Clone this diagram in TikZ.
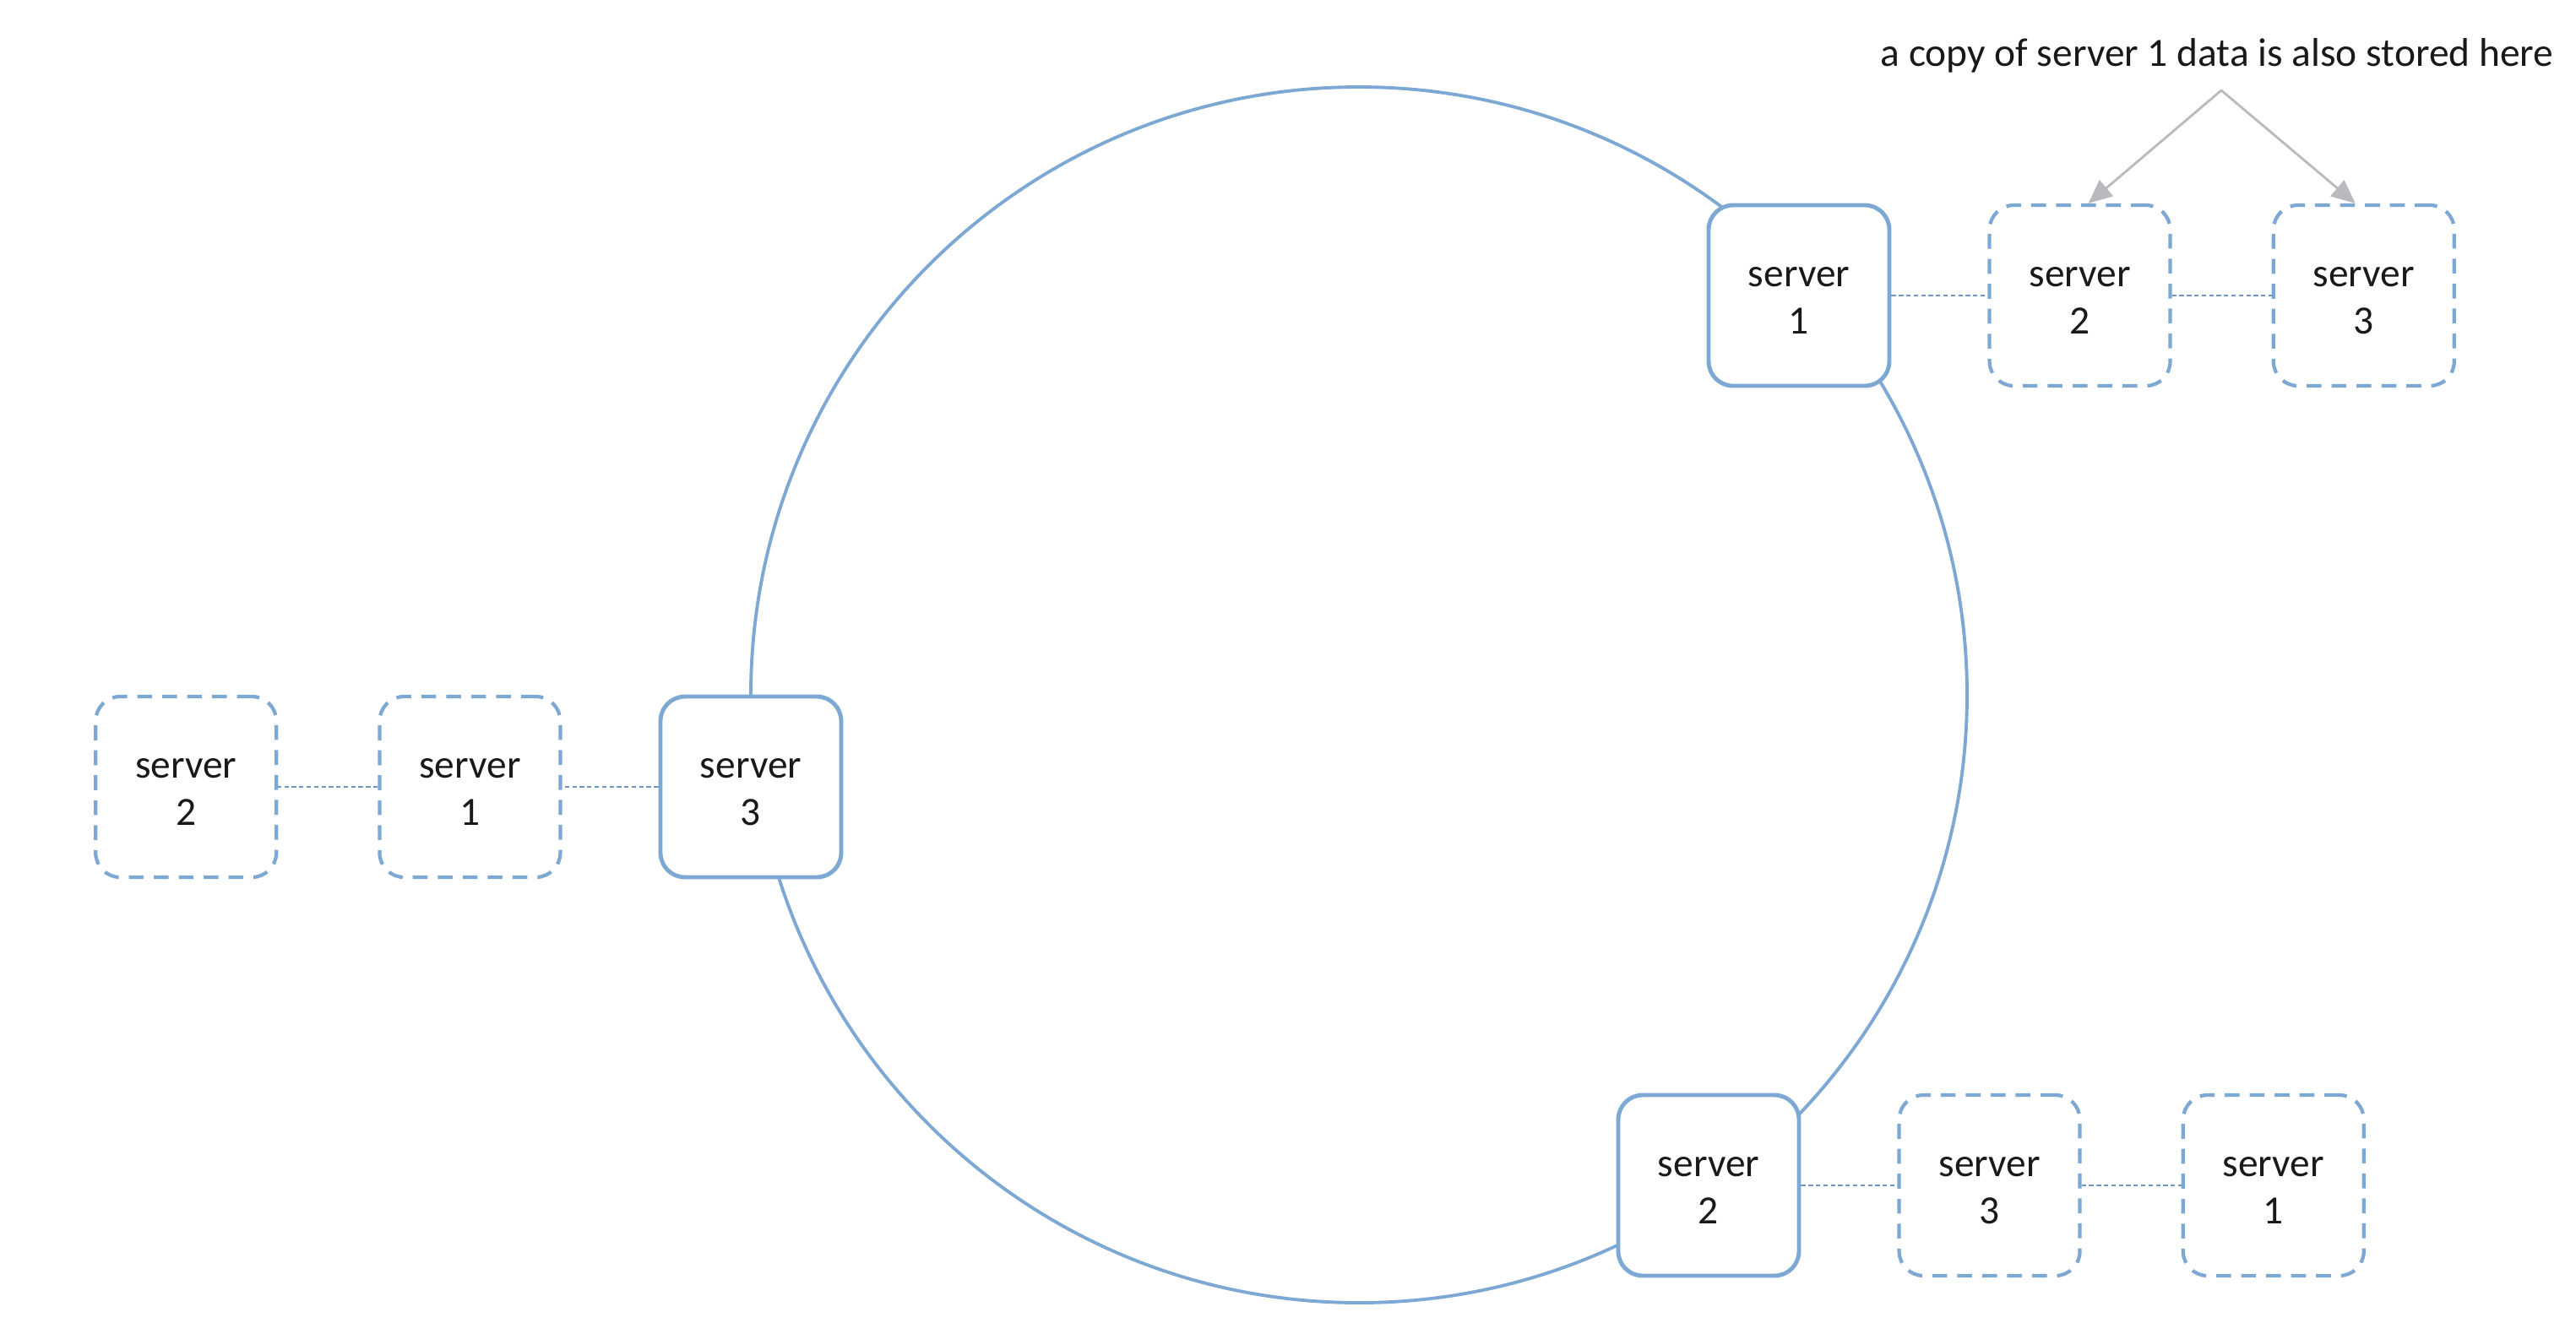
\documentclass[tikz,border=0pt]{standalone}
\usepackage{fontspec}
\setmainfont{Carlito}
\usepackage{tikz}
\usetikzlibrary{arrows.meta,calc,positioning}
\usepackage{xcolor}
\definecolor{ringblue}{RGB}{125,168,211}
\definecolor{linkblue}{RGB}{112,150,196}
\definecolor{notegray}{RGB}{185,185,190}

\begin{document}
\begin{tikzpicture}[
    every node/.style={font=\fontsize{13.5}{16}\selectfont, text=black!90},
    mainbox/.style={draw=ringblue, line width=1.4pt, fill=white, rounded corners=0.29cm,
      minimum width=2.14cm, minimum height=2.14cm, inner sep=0pt, align=center,
      text height=26pt, text depth=0pt},
    copybox/.style={mainbox, dash pattern=on 5pt off 3.4pt, line width=1.2pt},
    link/.style={draw=linkblue, line width=0.8pt, dash pattern=on 1.5pt off 1pt},
    ring/.style={draw=ringblue, line width=1.1pt}]
  \useasboundingbox (0,0) rectangle (30.5,-15.66);
  % the hash ring
  \coordinate (ctr) at (16.09,-8.23);
  \draw[ring] (ctr) circle (7.2);
  % top right: server 1 and its copies
  \node[mainbox] (s1) at (21.30,-3.50) {server\\1};
  \node[copybox, right=1.14cm of s1] (s1b) {server\\2};
  \node[copybox, right=1.18cm of s1b] (s1c) {server\\3};
  \draw[link] (s1) -- (s1b);
  \draw[link] (s1b) -- (s1c);
  % left: server 3 and its copies
  \node[mainbox] (s3) at (8.89,-9.32) {server\\3};
  \node[copybox, left=1.14cm of s3] (s3b) {server\\1};
  \node[copybox, left=1.18cm of s3b] (s3c) {server\\2};
  \draw[link] (s3) -- (s3b);
  \draw[link] (s3b) -- (s3c);
  % bottom: server 2 and its copies
  \node[mainbox] (s2) at (20.23,-14.04) {server\\2};
  \node[copybox, right=1.14cm of s2] (s2b) {server\\3};
  \node[copybox, right=1.18cm of s2b] (s2c) {server\\1};
  \draw[link] (s2) -- (s2b);
  \draw[link] (s2b) -- (s2c);
  % note
  \node (note) at (26.25,-0.66) {a copy of server 1 data is also stored here};
  \coordinate (apex) at (26.30,-1.07);
  \draw[notegray, line width=0.8pt, -{Triangle[length=8pt,width=7pt]}] (apex) -- ($(s1b.north)+(0.10,0)$);
  \draw[notegray, line width=0.8pt, -{Triangle[length=8pt,width=7pt]}] (apex) -- ($(s1c.north)+(-0.10,0)$);
\end{tikzpicture}
\end{document}
